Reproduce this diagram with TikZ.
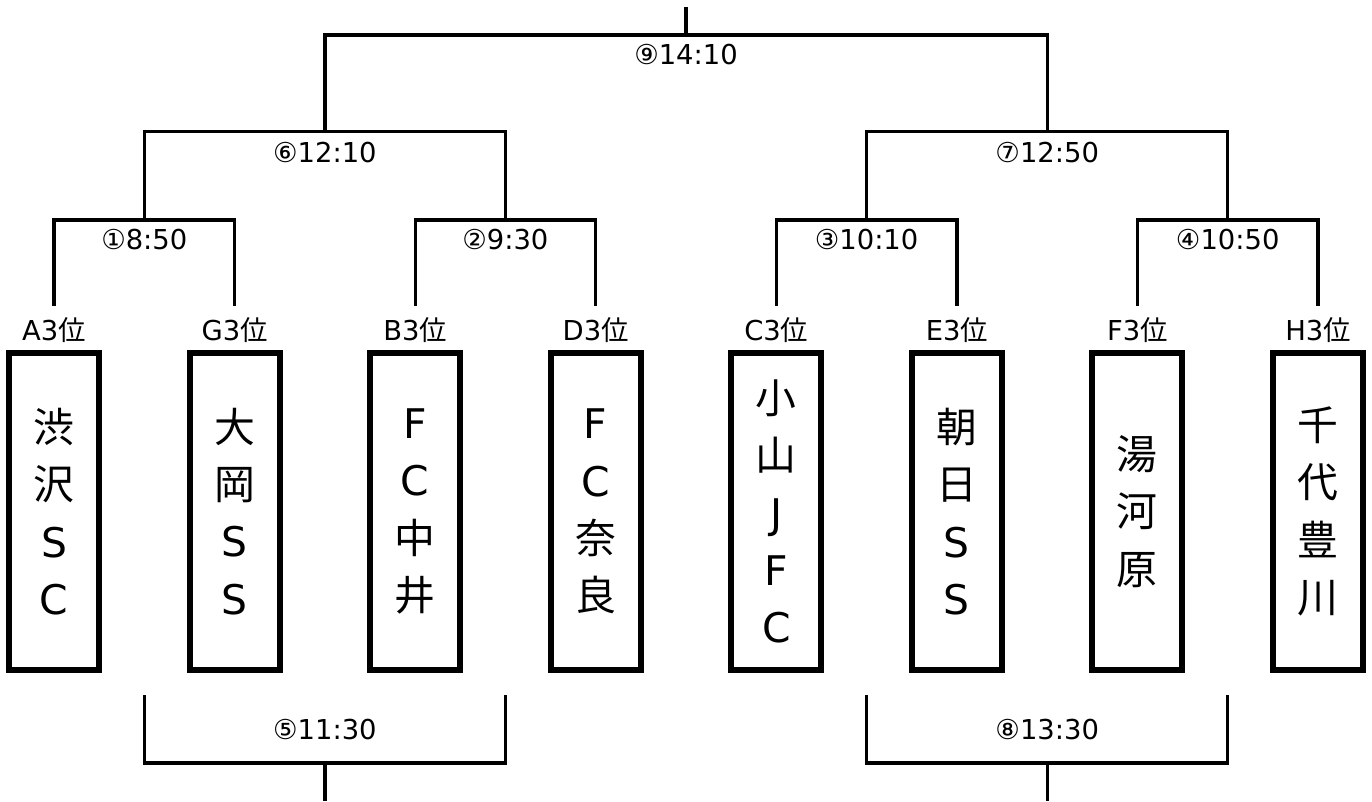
\documentclass[tikz,border=0pt]{standalone}
\usepackage{fontspec}
\setmainfont{DejaVu Sans}
\newfontfamily\jp{Noto Sans CJK JP}
\begin{document}
\begin{tikzpicture}[x=1bp,y=-1bp,
  team/.style={draw,line width=6bp,minimum width=90bp,minimum height=317bp,inner sep=0pt,align=center,font=\fontsize{41}{57.5}\selectfont},
  seed/.style={font=\fontsize{27.5}{30}\selectfont,inner sep=0pt},
  time/.style={font=\fontsize{27.5}{30}\selectfont,inner sep=0pt},
  bracket/.style={line width=3.2bp,line join=miter}]
\useasboundingbox (0,0) rectangle (1372,801);
% teams
\node[team] (b1) at (54,511.5)   {{\jp 渋}\\{\jp 沢}\\S\\C};
\node[team] (b2) at (234.6,511.5) {{\jp 大}\\{\jp 岡}\\S\\S};
\node[team] (b3) at (415.1,511.5) {F\\C\\{\jp 中}\\{\jp 井}};
\node[team] (b4) at (595.7,511.5) {F\\C\\{\jp 奈}\\{\jp 良}};
\node[team] (b5) at (776.3,511.5) {{\jp 小}\\{\jp 山}\\J\\F\\C};
\node[team] (b6) at (956.9,511.5) {{\jp 朝}\\{\jp 日}\\S\\S};
\node[team] (b7) at (1137.4,511.5) {{\jp 湯}\\{\jp 河}\\{\jp 原}};
\node[team] (b8) at (1318,511.5) {{\jp 千}\\{\jp 代}\\{\jp 豊}\\{\jp 川}};
% seeds
\node[seed] (l1) at (54,330)    {A3{\jp 位}};
\node[seed] (l2) at (234.6,330) {G3{\jp 位}};
\node[seed] (l3) at (415.1,330) {B3{\jp 位}};
\node[seed] (l4) at (595.7,330) {D3{\jp 位}};
\node[seed] (l5) at (776.3,330) {C3{\jp 位}};
\node[seed] (l6) at (956.9,330) {E3{\jp 位}};
\node[seed] (l7) at (1137.4,330) {F3{\jp 位}};
\node[seed] (l8) at (1318,330)  {H3{\jp 位}};
% bracket points
\coordinate (p1) at (54,306);
\coordinate (p2) at (234.6,306);
\coordinate (p3) at (415.1,306);
\coordinate (p4) at (595.7,306);
\coordinate (p5) at (776.3,306);
\coordinate (p6) at (956.9,306);
\coordinate (p7) at (1137.4,306);
\coordinate (p8) at (1318,306);
\coordinate (j1) at (144.3,220);
\coordinate (j2) at (505.4,220);
\coordinate (j3) at (866.6,220);
\coordinate (j4) at (1227.7,220);
\coordinate (j6) at (324.9,131.5);
\coordinate (j7) at (1047.2,131.5);
\coordinate (j9) at (686,35);
\coordinate (top) at (686,7);
% times
\node[time] (g1) at (144.3,240) {①8:50};
\node[time] (g2) at (505.4,240) {②9:30};
\node[time] (g3) at (866.6,240) {③10:10};
\node[time] (g4) at (1227.7,240) {④10:50};
\node[time] (g6) at (324.9,153) {⑥12:10};
\node[time] (g7) at (1047.2,153) {⑦12:50};
\node[time] (g9) at (686,55) {⑨14:10};
\node[time] (g5) at (324.9,730) {⑤11:30};
\node[time] (g8) at (1047.2,730) {⑧13:30};
% upper bracket
\draw[bracket] (p1) |- (j1) -| (p2);
\draw[bracket] (p3) |- (j2) -| (p4);
\draw[bracket] (p5) |- (j3) -| (p6);
\draw[bracket] (p7) |- (j4) -| (p8);
\draw[bracket] (j1) |- (j6) -| (j2);
\draw[bracket] (j3) |- (j7) -| (j4);
\draw[bracket] (j6) |- (j9) -| (j7);
\draw[bracket] (j9) -- (top);
% lower brackets
\coordinate (q1) at (144.3,695);
\coordinate (q2) at (505.4,695);
\coordinate (q3) at (866.6,695);
\coordinate (q4) at (1227.7,695);
\coordinate (j5) at (324.9,763);
\coordinate (j8) at (1047.2,763);
\coordinate (e5) at (324.9,801);
\coordinate (e8) at (1047.2,801);
\draw[bracket] (q1) |- (j5) -| (q2);
\draw[bracket] (q3) |- (j8) -| (q4);
\draw[bracket] (j5) -- (e5);
\draw[bracket] (j8) -- (e8);
\end{tikzpicture}
\end{document}
